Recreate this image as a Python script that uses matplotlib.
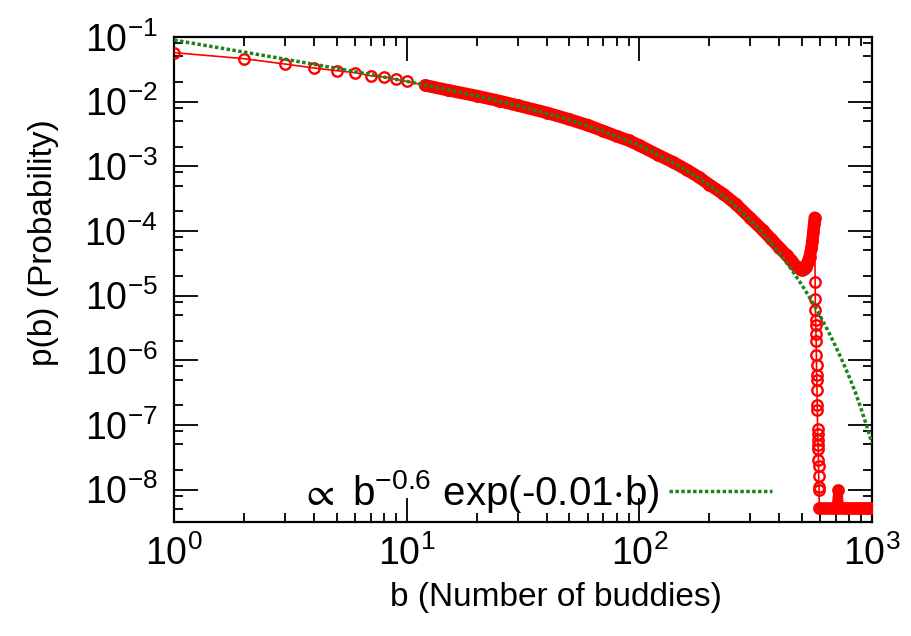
import numpy as np
import matplotlib
matplotlib.use("Agg")
import matplotlib.pyplot as plt
from matplotlib.ticker import LogLocator, NullFormatter

plt.rcParams['font.family'] = ['Liberation Sans', 'DejaVu Sans']
plt.rcParams['mathtext.fontset'] = 'custom'
plt.rcParams['mathtext.rm'] = 'Liberation Sans'
plt.rcParams['mathtext.it'] = 'Liberation Sans'
plt.rcParams['mathtext.default'] = 'regular'
plt.rcParams['axes.unicode_minus'] = False

# ───────── DATA ─────────
# red: measured p(b)
b_main = [1, 2, 3, 4, 5, 6, 7, 8, 9, 10, 12, 15, 20, 25, 30, 40, 50, 60, 70, 80,
          90, 100, 120, 140, 160, 180, 200, 230, 260, 300, 340, 370, 400, 430,
          450, 470, 490, 500, 510, 520, 530, 540, 550, 555, 560, 565, 568]
p_main = [0.057, 0.046, 0.038, 0.033, 0.030, 0.028, 0.025, 0.024, 0.022, 0.0205,
          0.0178, 0.0150, 0.0122, 0.0102, 0.0087, 0.0067, 0.0053, 0.0043, 0.0035,
          0.0029, 0.0025, 0.0021, 0.0015, 0.00115, 0.00088, 0.00068, 0.00052,
          0.00037, 0.00026, 0.000158, 0.000102, 0.000074, 0.000055, 0.000042,
          0.000035, 0.000029, 0.000026, 0.000025, 0.000026, 0.000028, 0.000033,
          0.000040, 0.000055, 0.000070, 0.000095, 0.000130, 0.000160]

# red: sharp cut-off after the peak
b_drop = [570, 571, 572, 573, 574, 575, 576, 577, 578, 579, 580, 581, 582,
          583, 584, 585, 586, 587, 588, 589, 590, 591, 592, 593, 594]
p_drop = [1.6e-5, 8.9e-6, 6.0e-6, 4.2e-6, 3.5e-6, 2.5e-6, 2.0e-6, 1.2e-6,
          8.3e-7, 5.9e-7, 4.9e-7, 3.4e-7, 2.0e-7, 1.7e-7, 8.5e-8, 7.1e-8,
          5.9e-8, 4.9e-8, 4.2e-8, 2.9e-8, 2.3e-8, 1.6e-8, 1.1e-8, 1.0e-8, 5.2e-9]

# red: single-count floor
b_floor = [600, 625, 650, 675, 700, 716, 725, 750, 775, 800, 825, 850, 875,
           900, 925, 950, 975, 1000]
p_floor = [5.2e-9, 5.2e-9, 5.2e-9, 5.2e-9, 5.2e-9, 1.0e-8, 5.2e-9, 5.2e-9,
           5.2e-9, 5.2e-9, 5.2e-9, 5.2e-9, 5.2e-9, 5.2e-9, 5.2e-9, 5.2e-9,
           5.2e-9, 5.2e-9]

# green: fit  ~ b^-0.6 exp(-0.01 b)
b_fit = [1, 2, 3, 5, 7, 10, 15, 20, 30, 50, 70, 100, 150, 200, 250, 300, 350,
         400, 450, 500, 550, 600, 650, 700, 750, 800, 850, 900, 950, 1000]
p_fit = [0.0891, 0.0582, 0.0452, 0.0326, 0.0261, 0.0205, 0.0153, 0.0122,
         0.00866, 0.00522, 0.00349, 0.00209, 0.000993, 0.000507, 0.000269,
         0.000146, 8.09e-5, 4.53e-5, 2.56e-5, 1.46e-5, 8.34e-6, 4.80e-6,
         2.78e-6, 1.61e-6, 9.37e-7, 5.47e-7, 3.15e-7, 1.75e-7, 9.6e-8, 5.2e-8]

fit_label = r'$\propto$ b$^{-0.6}$ exp(-0.01$\cdot$b)'

# ───────── PLOT ─────────
fig = plt.figure(figsize=(9.12, 6.36), dpi=100)
ax = fig.add_axes([0.191, 0.180, 0.765, 0.762])

red = '#ff0000'
green = '#1e821e'

b_all = b_main + b_drop + b_floor
p_all = p_main + p_drop + p_floor

# thick band where the markers overlap
ax.plot(b_main[10:], p_main[10:], color=red, lw=9, solid_capstyle='round', zorder=2)
ax.plot(b_floor, p_floor, color=red, lw=6.5, solid_capstyle='round', zorder=2)
ax.plot(b_all, p_all, color=red, lw=1.2, marker='o', ms=7.5, mfc='none',
        mec=red, mew=1.7, zorder=3)

ax.plot(b_fit, p_fit, color=green, lw=2.5, linestyle=(0, (1.0, 0.7)),
        label=fit_label, zorder=4)

ax.set_xscale('log')
ax.set_yscale('log')
ax.set_xlim(1, 1000)
ax.set_ylim(3.2e-9, 1e-1)

ax.xaxis.set_major_locator(LogLocator(base=10, numticks=10))
ax.xaxis.set_minor_locator(LogLocator(base=10, subs=np.arange(2, 10), numticks=20))
ax.yaxis.set_major_locator(LogLocator(base=10, numticks=20))
ax.yaxis.set_minor_locator(LogLocator(base=10, subs=[2, 5, 8], numticks=20))
ax.xaxis.set_minor_formatter(NullFormatter())
ax.yaxis.set_minor_formatter(NullFormatter())

ax.tick_params(which='both', direction='in', top=True, right=True,
               labelsize=27, width=1.3, color='black')
ax.tick_params(which='major', length=17)
ax.tick_params(which='minor', length=6.5)
ax.tick_params(axis='y', which='major', pad=12)
ax.tick_params(axis='x', which='major', pad=10)
for s in ax.spines.values():
    s.set_linewidth(1.6)

ax.set_xlabel('b (Number of buddies)', fontsize=24, va='center')
ax.set_ylabel('p(b) (Probability)', fontsize=24, va='center')
ax.xaxis.set_label_coords(0.547, -0.157)
ax.yaxis.set_label_coords(-0.187, 0.575)

ax.legend(loc='center right', bbox_to_anchor=(0.857, 0.062), frameon=False,
          markerfirst=False, fontsize=29, handlelength=2.55, handletextpad=0.25,
          borderpad=0, borderaxespad=0)

fig.savefig('out.png', dpi=100)
